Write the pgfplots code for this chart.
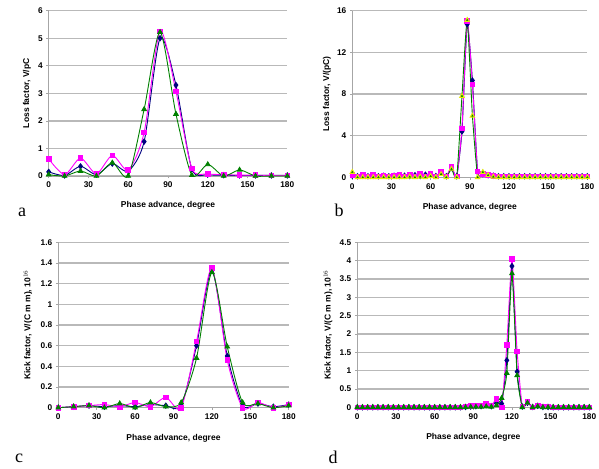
\documentclass[border=0pt]{standalone}
\usepackage{pgfplots}
\pgfplotsset{compat=1.18}
\usepackage{fontspec}
\setmainfont{Liberation Sans}
\newfontfamily\serif{Liberation Serif}
\definecolor{cblue}{RGB}{0,0,128}
\definecolor{cmag}{RGB}{255,0,255}
\definecolor{cgreen}{RGB}{0,128,0}
\pgfplotsset{
  panel/.style={
    scale only axis, anchor=south west,
    axis x line*=bottom, axis y line*=left,
    axis line style={gray!70, line width=0.8pt, -},
    xmin=0, xmax=180, xtick={0,30,...,180},
    ymajorgrids, grid style={gray!55, line width=1.3pt},
    tick style={gray!70, line width=0.6pt}, tick align=outside, major tick length=2.5pt,
    tick label style={font=\fontsize{8.3}{9}\selectfont\bfseries},
    label style={font=\fontsize{8.5}{10}\selectfont\bfseries},
    /pgf/number format/assume math mode=true,
    clip=false,
    every axis plot/.append style={smooth, tension=0.45, line width=0.9pt},
  },
  sb/.style={cblue, mark=diamond*, mark size=2.6pt, mark options={fill=cblue, draw=cblue}},
  sm/.style={cmag, mark=square*, mark size=2.3pt, mark options={fill=cmag, draw=cmag}},
  sg/.style={cgreen, mark=triangle*, mark size=2.6pt, mark options={fill=cgreen, draw=cgreen}},
  sgy/.style={cgreen, mark=triangle*, mark size=2.6pt, mark options={fill=cgreen, draw=yellow!90!green}},
}
\begin{document}
\begin{tikzpicture}
\path[use as bounding box] (0pt,0pt) rectangle (599pt,468pt);
% ---------- a ----------
\begin{axis}[panel, at={(48.7pt,292pt)}, width=238.6pt, height=165.3pt,
  ymin=0, ymax=6, ytick={0,1,...,6},
  ylabel={Loss factor, V/pC}, xlabel={Phase advance, degree},
  ylabel style={at={(axis description cs:-0.091,0.5)}, anchor=center},
  xlabel style={at={(axis description cs:0.5,-0.18)}, anchor=center}]
\addplot[sb] coordinates {(0,0.15)(12,0.02)(24,0.35)(36,0.05)(48,0.45)(60,0.18)(72,1.25)(84,5.0)(96,3.3)(108,0.25)(120,0.05)(132,0.03)(144,0.02)(156,0.02)(168,0.02)(180,0.02)};
\addplot[sm] coordinates {(0,0.62)(12,0.05)(24,0.65)(36,0.08)(48,0.75)(60,0.22)(72,1.58)(84,5.25)(96,3.07)(108,0.28)(120,0.08)(132,0.05)(144,0.03)(156,0.03)(168,0.02)(180,0.02)};
\addplot[sg] coordinates {(0,0.05)(12,0.0)(24,0.18)(36,0.0)(48,0.48)(60,0.0)(72,2.42)(84,5.22)(96,2.25)(108,0.03)(120,0.42)(132,0.0)(144,0.22)(156,0.0)(168,0.0)(180,0.0)};
\end{axis}
% ---------- b ----------
\begin{axis}[panel, at={(352.3pt,290.7pt)}, width=235pt, height=166.6pt,
  ymin=0, ymax=16, ytick={0,4,...,16},
  ylabel={Loss factor, V/(pC)}, xlabel={Phase advance, degree},
  ylabel style={at={(axis description cs:-0.108,0.5)}, anchor=center},
  xlabel style={at={(axis description cs:0.5,-0.182)}, anchor=center},
  every axis plot/.append style={smooth, tension=0.3}]
\addplot[sb] coordinates {(0,0.15)(4,0.1)(8,0.15)(12,0.1)(16,0.15)(20,0.1)(24,0.15)(28,0.1)(32,0.15)(36,0.12)(40,0.15)(44,0.12)(48,0.2)(52,0.12)(56,0.25)(60,0.3)(64,0.12)(68,0.45)(72,0.1)(76,0.9)(80,0.1)(84,4.4)(88,14.7)(92,9.3)(96,0.5)(100,0.3)(104,0.2)(108,0.15)(112,0.1)(116,0.1)(120,0.1)(124,0.1)(128,0.1)(132,0.1)(136,0.1)(140,0.1)(144,0.1)(148,0.1)(152,0.1)(156,0.1)(160,0.1)(164,0.1)(168,0.1)(172,0.1)(176,0.1)(180,0.1)};
\addplot[sm] coordinates {(0,0.2)(4,0.1)(8,0.2)(12,0.1)(16,0.2)(20,0.1)(24,0.15)(28,0.1)(32,0.15)(36,0.2)(40,0.1)(44,0.2)(48,0.1)(52,0.3)(56,0.1)(60,0.35)(64,0.1)(68,0.5)(72,0.1)(76,1.0)(80,0.1)(84,4.7)(88,15.0)(92,8.9)(96,0.55)(100,0.3)(104,0.2)(108,0.15)(112,0.1)(116,0.1)(120,0.1)(124,0.1)(128,0.1)(132,0.1)(136,0.1)(140,0.1)(144,0.1)(148,0.1)(152,0.1)(156,0.1)(160,0.1)(164,0.1)(168,0.1)(172,0.1)(176,0.1)(180,0.1)};
\addplot[sgy] coordinates {(0,0.5)(4,0.0)(8,0.0)(12,0.0)(16,0.0)(20,0.0)(24,0.0)(28,0.0)(32,0.0)(36,0.0)(40,0.0)(44,0.05)(48,0.0)(52,0.05)(56,0.0)(60,0.1)(64,0.0)(68,0.3)(72,0.0)(76,0.8)(80,0.0)(84,7.8)(88,15.1)(92,5.9)(96,0.0)(100,0.5)(104,0.2)(108,0.05)(112,0.0)(116,0.0)(120,0.0)(124,0.0)(128,0.0)(132,0.0)(136,0.0)(140,0.0)(144,0.0)(148,0.0)(152,0.0)(156,0.0)(160,0.0)(164,0.0)(168,0.0)(172,0.0)(176,0.0)(180,0.0)};
\end{axis}
% ---------- c ----------
\begin{axis}[panel, at={(58.3pt,60.3pt)}, width=230.4pt, height=165.4pt,
  ymin=0, ymax=1.6, ytick={0,0.2,0.4,0.6,0.8,1,1.2,1.4,1.6},
  yticklabels={0,0.2,0.4,0.6,0.8,1,1.2,1.4,1.6},
  ylabel={Kick factor, V/(C m m), 10$^{16}$}, xlabel={Phase advance, degree},
  ylabel style={at={(axis description cs:-0.1315,0.5)}, anchor=center},
  xlabel style={at={(axis description cs:0.5,-0.183)}, anchor=center}]
\addplot[sb] coordinates {(0,0)(12,0.01)(24,0.02)(36,0.01)(48,0.02)(60,0.01)(72,0.03)(84,0.02)(96,0.02)(108,0.6)(120,1.33)(132,0.5)(144,0.02)(156,0.04)(168,0.01)(180,0.03)};
\addplot[sm] coordinates {(0,0)(12,0.01)(24,0.02)(36,0.03)(48,0.01)(60,0.05)(72,0.01)(84,0.1)(96,0.0)(108,0.64)(120,1.35)(132,0.46)(144,0.0)(156,0.05)(168,0.0)(180,0.03)};
\addplot[sg] coordinates {(0,0)(12,0.01)(24,0.02)(36,0.0)(48,0.04)(60,0.0)(72,0.05)(84,0.01)(96,0.05)(108,0.48)(120,1.31)(132,0.59)(144,0.05)(156,0.04)(168,0.0)(180,0.02)};
\end{axis}
% ---------- d ----------
\begin{axis}[panel, at={(357.3pt,60.7pt)}, width=232pt, height=165pt,
  ymin=0, ymax=4.5, ytick={0,0.5,1,1.5,2,2.5,3,3.5,4,4.5},
  yticklabels={0,0.5,1,1.5,2,2.5,3,3.5,4,4.5},
  ylabel={Kick factor, V/(C m m), 10$^{16}$}, xlabel={Phase advance, degree},
  ylabel style={at={(axis description cs:-0.126,0.5)}, anchor=center},
  xlabel style={at={(axis description cs:0.5,-0.182)}, anchor=center},
  every axis plot/.append style={smooth, tension=0.3}]
\addplot[sb] coordinates {(0,0)(4,0)(8,0)(12,0)(16,0)(20,0)(24,0)(28,0)(32,0)(36,0)(40,0)(44,0)(48,0)(52,0)(56,0)(60,0)(64,0)(68,0)(72,0)(76,0)(80,0)(84,0.01)(88,0.02)(92,0.03)(96,0.03)(100,0.06)(104,0.03)(108,0.15)(112,0.1)(116,1.28)(120,3.85)(124,0.97)(128,0.02)(132,0.12)(136,0.01)(140,0.04)(144,0.01)(148,0.01)(152,0)(156,0)(160,0)(164,0)(168,0)(172,0)(176,0)(180,0)};
\addplot[sm] coordinates {(0,0)(4,0)(8,0)(12,0)(16,0)(20,0)(24,0)(28,0)(32,0)(36,0)(40,0)(44,0)(48,0)(52,0)(56,0)(60,0)(64,0)(68,0)(72,0)(76,0)(80,0)(84,0.02)(88,0.03)(92,0.05)(96,0.05)(100,0.1)(104,0.05)(108,0.22)(112,0.0)(116,1.7)(120,4.05)(124,1.52)(128,0.02)(132,0.15)(136,0.0)(140,0.05)(144,0.02)(148,0.02)(152,0)(156,0)(160,0)(164,0)(168,0)(172,0)(176,0)(180,0)};
\addplot[sg] coordinates {(0,0)(4,0)(8,0)(12,0)(16,0)(20,0)(24,0)(28,0)(32,0)(36,0)(40,0)(44,0)(48,0)(52,0)(56,0)(60,0)(64,0)(68,0)(72,0)(76,0)(80,0)(84,0)(88,0.01)(92,0.01)(96,0.01)(100,0.02)(104,0.01)(108,0.05)(112,0.25)(116,0.93)(120,3.65)(124,0.87)(128,0.0)(132,0.12)(136,0.0)(140,0.02)(144,0)(148,0)(152,0)(156,0)(160,0)(164,0)(168,0)(172,0)(176,0)(180,0)};
\end{axis}
% panel letters
\node[font=\serif\fontsize{18}{18}\selectfont] at (22pt,256pt) {a};
\node[font=\serif\fontsize{18}{18}\selectfont] at (339pt,258pt) {b};
\node[font=\serif\fontsize{18}{18}\selectfont] at (19pt,10pt) {c};
\node[font=\serif\fontsize{18}{18}\selectfont] at (333pt,11pt) {d};
\end{tikzpicture}
\end{document}
